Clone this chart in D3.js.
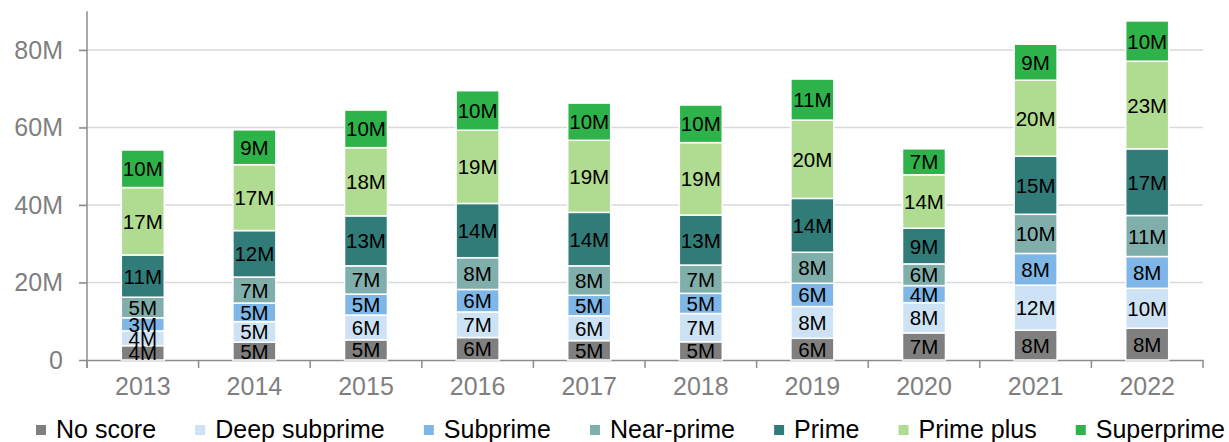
<!DOCTYPE html>
<html><head><meta charset="utf-8">
<script src="https://cdn.jsdelivr.net/npm/d3@7"></script>
<style>body{margin:0;background:#fff} svg{display:block} text{font-family:Arial,"Liberation Sans",sans-serif}</style>
</head><body><svg id="c" width="1229" height="442"></svg>
<script>
const years = ["2013","2014","2015","2016","2017","2018","2019","2020","2021","2022"];
const seriesNames = ["No score","Deep subprime","Subprime","Near-prime","Prime","Prime plus","Superprime"];
const noScore      = [3.7, 4.6, 5.2, 5.8, 5.0, 4.7, 5.6, 7.0, 7.7, 8.2];
const deepSubprime = [3.8, 5.3, 6.4, 6.6, 6.4, 7.3, 8.2, 7.8, 11.6, 10.3];
const subprime     = [3.4, 4.8, 5.4, 5.8, 5.3, 5.2, 6.0, 4.4, 8.2, 8.2];
const nearPrime    = [5.3, 6.7, 7.3, 8.2, 7.6, 7.3, 8.0, 5.6, 10.1, 10.6];
const prime        = [10.9, 12.0, 12.9, 14.0, 13.8, 12.9, 13.9, 9.2, 15.0, 17.2];
const primePlus    = [17.4, 17.0, 17.6, 18.9, 18.6, 18.7, 20.2, 13.8, 19.6, 22.6];
const superprime   = [9.7, 9.0, 9.7, 10.2, 9.6, 9.7, 10.6, 6.7, 9.3, 10.4];
const yTickValues = [0, 20, 40, 60, 80];
const yTickLabels = ["0", "20M", "40M", "60M", "80M"];
const colors = ["#7f7f7f","#cde3f5","#7db6e7","#80afab","#317c79","#b0dc91","#2eb34a"];

const seriesData = [noScore, deepSubprime, subprime, nearPrime, prime, primePlus, superprime];
const rows = years.map((yr, i) => {
  const r = {year: yr};
  seriesNames.forEach((s, k) => r[s] = seriesData[k][i]);
  return r;
});

const svg = d3.select("#c");
const left = 87, right = 1203, bottom = 360;
const y = d3.scaleLinear().domain([0, 90]).range([bottom, bottom - 90 * 3.875]);
const x = d3.scaleBand().domain(years).range([left, right]).paddingInner(0.615).paddingOuter(0.3075);
const step = x.step();

// gridlines
svg.append("g").selectAll("line").data(yTickValues.filter(v => v > 0)).join("line")
  .attr("x1", left - 8).attr("x2", right).attr("y1", d => y(d)).attr("y2", d => y(d))
  .attr("stroke", "#d9d9d9").attr("stroke-width", 1.5);

// y axis
const yAxis = d3.axisLeft(y).tickValues(yTickValues).tickSize(8).tickPadding(16)
  .tickFormat((d, i) => yTickLabels[i]);
const gy = svg.append("g").attr("transform", `translate(${left},0)`).call(yAxis);
gy.select(".domain").attr("stroke", "#8c8c8c").attr("stroke-width", 1.5);
gy.selectAll(".tick line").attr("stroke", "#8c8c8c").attr("stroke-width", 1.5);
gy.selectAll(".tick text").attr("fill", "#7f7f7f").style("font-size", "25px")
  .style("font-family", "Arial, 'Liberation Sans', sans-serif");

// x axis
const xAxis = d3.axisBottom(x).tickSize(0).tickPadding(17);
const gx = svg.append("g").attr("transform", `translate(0,${bottom})`).call(xAxis);
gx.select(".domain").attr("stroke", "#8c8c8c").attr("stroke-width", 1.5);
gx.selectAll(".tick text").attr("fill", "#7f7f7f").style("font-size", "25px")
  .style("font-family", "Arial, 'Liberation Sans', sans-serif");
svg.append("g").selectAll("line").data(d3.range(years.length + 1)).join("line")
  .attr("x1", i => left + i * step).attr("x2", i => left + i * step)
  .attr("y1", bottom).attr("y2", bottom + 8)
  .attr("stroke", "#8c8c8c").attr("stroke-width", 1.5);
// y axis extend to top
gy.select(".domain").attr("d", `M0,${y(90)}V${bottom + 8}`);

// bars
const stack = d3.stack().keys(seriesNames)(rows);
const layers = svg.append("g").selectAll("g").data(stack).join("g").attr("fill", (d, i) => colors[i]);
layers.selectAll("rect").data(d => d).join("rect")
  .attr("x", d => x(d.data.year)).attr("width", x.bandwidth())
  .attr("y", d => y(d[1])).attr("height", d => y(d[0]) - y(d[1]))
  .attr("stroke", "#fff").attr("stroke-width", 1.5);

// labels
const lab = svg.append("g");
stack.forEach((layer, k) => {
  lab.selectAll(null).data(layer).join("text")
    .attr("x", d => x(d.data.year) + x.bandwidth() / 2)
    .attr("y", d => (y(d[0]) + y(d[1])) / 2)
    .attr("text-anchor", "middle").attr("dominant-baseline", "central")
    .attr("fill", "#000").style("font-size", "20.5px")
    .text(d => Math.round(d[1] - d[0]) + "M");
});

// legend
const lg = svg.append("g");
const items = seriesNames.map((s, i) => {
  const g = lg.append("g");
  g.append("rect").attr("width", 10).attr("height", 10).attr("y", 425).attr("fill", colors[i]);
  const t = g.append("text").attr("x", 20).attr("y", 438).attr("fill", "#000").style("font-size", "25px").text(s);
  return {g, w: 20 + t.node().getComputedTextLength()};
});
const start = 36, end = 1225;
const total = d3.sum(items, d => d.w);
const gap = (end - start - total) / (items.length - 1);
let cx = start;
items.forEach(it => { it.g.attr("transform", `translate(${cx},0)`); cx += it.w + gap; });
</script></body></html>
